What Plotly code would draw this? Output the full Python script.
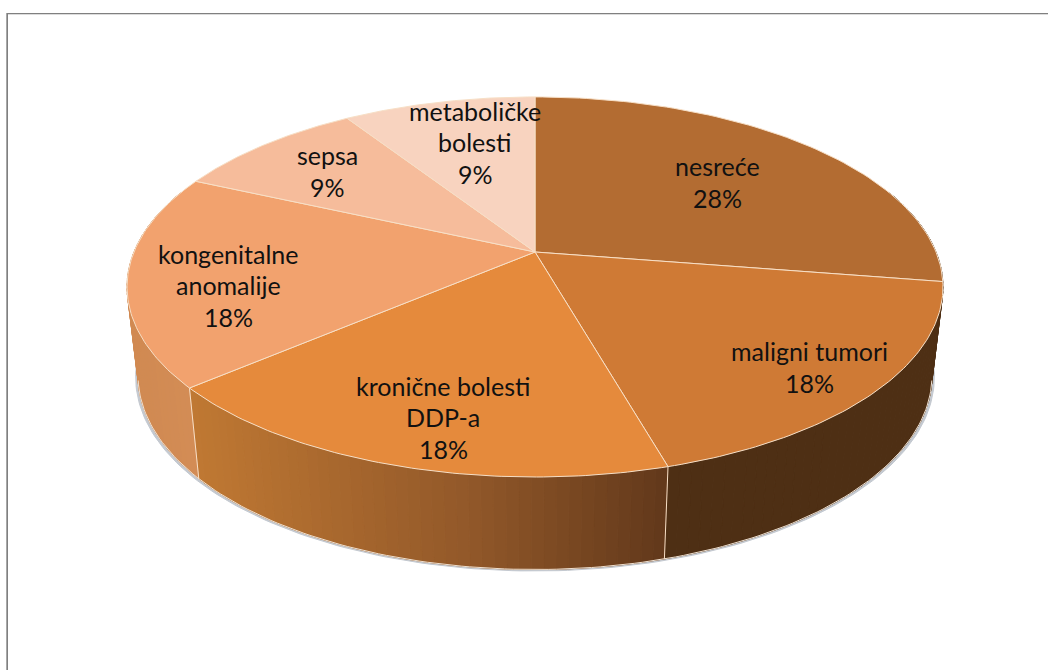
import numpy as np
import plotly.graph_objects as go

# share of each cause (labels round them)
causes = ['nesreće', 'maligni tumori', 'kronične bolesti DDP-a',
          'kongenitalne anomalije', 'sepsa', 'metaboličke bolesti']
shares = [27.5, 18.1, 18.1, 18.1, 9.1, 9.1]

label_lines = [['nesreće'], ['maligni tumori'], ['kronične bolesti', 'DDP-a'],
               ['kongenitalne', 'anomalije'], ['sepsa'], ['metaboličke', 'bolesti']]
label_pos = [(717, 182), (809, 367), (443, 417), (228, 285), (327, 171), (475, 142)]

top_colors = ['#b36c32', '#cf7a35', '#e58a3c', '#f2a26e', '#f6bc9b', '#f8d3bf']
# wall gradient stops per slice: (screen x, colour)
wall_stops = [
    [(0, '#4f3015'), (1048, '#4f3015')],
    [(0, '#4f3015'), (1048, '#4e2f14')],
    [(199, '#bf7833'), (465, '#93592a'), (667, '#62391b')],
    [(133, '#d18a52'), (190, '#d48d56')],
    [(0, '#d18a52'), (1048, '#d18a52')],
    [(0, '#d18a52'), (1048, '#d18a52')],
]
rim_color = '#f7dfc6'

# perspective of the tilted disc, fitted to the reference
CX, CY = 535, 252
RX, RY, PERSP = 401, 183.6, 0.184
DROP, Y_STRETCH, X_SHRINK = 88, 1.02, 0.973
FONT_SIZE = 25
LINE_H = 31.5


def top_xy(deg):
    t = np.radians(deg)
    w = 1 + PERSP * np.cos(t)
    return CX + RX * np.sin(t) / w, CY - RY * np.cos(t) / w


def bottom_xy(deg):
    x, y = top_xy(deg)
    return CX + X_SHRINK * (x - CX), CY + DROP + Y_STRETCH * (y - CY)


def hex_rgb(c):
    return np.array([int(c[i:i + 2], 16) for i in (1, 3, 5)])


def wall_color(stops, x):
    xs = [s[0] for s in stops]
    rgb = np.array([hex_rgb(s[1]) for s in stops])
    vals = [int(np.interp(x, xs, rgb[:, i])) for i in range(3)]
    return f'rgb({vals[0]},{vals[1]},{vals[2]})'


def poly(xs, ys, fill, line=None, width=1):
    return go.Scatter(x=xs, y=ys, mode='lines', fill='toself', fillcolor=fill,
                      line=dict(color=line or fill, width=width), hoverinfo='skip', showlegend=False)


edges = np.concatenate([[0], np.cumsum(shares)]) * 360 / sum(shares)
fig = go.Figure()

# soft shadow under the outer wall
arc = np.linspace(70, 290, 200)
bx, by = bottom_xy(arc)
fig.add_trace(poly(CX + 1.006 * (bx - CX), by + 1.5, '#c4c9d0'))

# wall strips, each slice with its own gradient
for i in range(len(shares)):
    a0, a1 = max(edges[i], 70), min(edges[i + 1], 290)
    if a1 <= a0:
        continue
    steps = np.linspace(a0, a1, int((a1 - a0) / 1.5) + 2)
    for s0, s1 in zip(steps[:-1], steps[1:]):
        tx0, ty0 = top_xy(s0)
        tx1, ty1 = top_xy(s1)
        bx0, by0 = bottom_xy(s0)
        bx1, by1 = bottom_xy(s1)
        col = wall_color(wall_stops[i], (tx0 + tx1) / 2)
        fig.add_trace(poly([tx0, tx1, bx1, bx0, tx0], [ty0, ty1, by1, by0, ty0], col))

# light rim along the visible wall bottom and wall separators
rim = np.linspace(102, 258, 150)
rx, ry = bottom_xy(rim)
fig.add_trace(go.Scatter(x=rx, y=ry, mode='lines', line=dict(color='#efe0d0', width=1),
                         hoverinfo='skip', showlegend=False))
for e in edges[1:-1]:
    if 100 < e < 270:
        tx, ty = top_xy(e)
        ex, ey = bottom_xy(e)
        fig.add_trace(go.Scatter(x=[tx, ex], y=[ty, ey], mode='lines', line=dict(color=rim_color, width=1),
                                 hoverinfo='skip', showlegend=False))

# top face slices
for i, name in enumerate(causes):
    arc = np.linspace(edges[i], edges[i + 1], 80)
    ax, ay = top_xy(arc)
    fig.add_trace(poly(np.r_[CX, ax, CX], np.r_[CY, ay, CY], top_colors[i], rim_color))

# labels, one annotation per line so line spacing can follow the reference
annotations = []
for lines, share, (lx, ly) in zip(label_lines, shares, label_pos):
    rows = lines + [f'{share:.0f}%']
    for r, row in enumerate(rows):
        annotations.append(dict(x=lx, y=ly + (r - (len(rows) - 1) / 2) * LINE_H, text=row, showarrow=False,
                                xanchor='center', yanchor='middle',
                                font=dict(family='Lato, sans-serif', size=FONT_SIZE, color='#111111')))

fig.update_layout(
    width=1048, height=670,
    margin=dict(l=0, r=0, t=0, b=0),
    paper_bgcolor='white', plot_bgcolor='white',
    showlegend=False,
    annotations=annotations,
    xaxis=dict(range=[0, 1048], visible=False, fixedrange=True),
    yaxis=dict(range=[670, 0], visible=False, fixedrange=True),
    shapes=[
        dict(type='line', x0=7, x1=1048, y0=13.5, y1=13.5, line=dict(color='#808080', width=1)),
        dict(type='line', x0=8, x1=1048, y0=14.5, y1=14.5, line=dict(color='#dcdcdc', width=1)),
        dict(type='line', x0=6.5, x1=6.5, y0=13, y1=670, line=dict(color='#a8a8a8', width=1)),
        dict(type='line', x0=7.5, x1=7.5, y0=13, y1=670, line=dict(color='#808080', width=1)),
    ],
)

fig.write_html("out.html", config=dict(displayModeBar=False),
               post_script="document.body.style.margin='0';document.body.style.overflow='hidden';")
